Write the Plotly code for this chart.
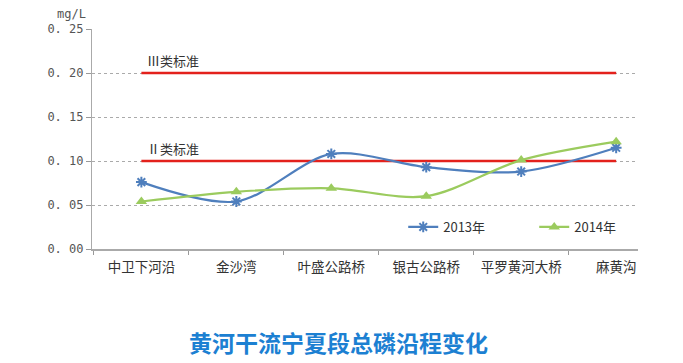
import plotly.graph_objects as go

categories = ["中卫下河沿", "金沙湾", "叶盛公路桥", "银古公路桥", "平罗黄河大桥", "麻黄沟"]
values_2013 = [0.076, 0.054, 0.108, 0.093, 0.088, 0.115]
values_2014 = [0.054, 0.065, 0.069, 0.060, 0.101, 0.122]
standard_names = ["Ⅲ类标准", "Ⅱ类标准"]
standard_values = [0.20, 0.10]
y_ticks = [0.00, 0.05, 0.10, 0.15, 0.20, 0.25]

cjk = "Noto Sans CJK SC"
fig = go.Figure()

for name, val in zip(standard_names, standard_values):
    fig.add_trace(go.Scatter(
        x=[categories[0], categories[-1]], y=[val, val], mode="lines",
        line=dict(color="#e3211c", width=2.5), showlegend=False, hoverinfo="skip"))
    fig.add_annotation(x=categories[0], y=val, text=name, showarrow=False,
                       xanchor="left", yanchor="bottom", xshift=4, yshift=1,
                       font=dict(family=cjk, size=13, color="#333333"))

fig.add_trace(go.Scatter(
    x=categories, y=values_2013, name="2013年", mode="lines+markers",
    line=dict(color="#4f7fbd", width=2.2, shape="spline", smoothing=0.9),
    marker=dict(symbol="asterisk-open", size=9, color="#4f7fbd",
                line=dict(color="#4f7fbd", width=2))))
fig.add_trace(go.Scatter(
    x=categories, y=values_2014, name="2014年", mode="lines+markers",
    line=dict(color="#9bcb5e", width=2.2, shape="spline", smoothing=0.9),
    marker=dict(symbol="triangle-up", size=10, color="#9bcb5e")))

fig.update_layout(
    width=683, height=363,
    margin=dict(l=92, r=45, t=29, b=114, autoexpand=False),
    paper_bgcolor="white", plot_bgcolor="white",
    showlegend=True,
    legend=dict(orientation="h", x=0.57, y=0.1, xanchor="left", yanchor="middle",
                bgcolor="rgba(0,0,0,0)", font=dict(family=cjk, size=13, color="#333333"),
                entrywidth=86, tracegroupgap=0),
    font=dict(family=cjk),
)
fig.update_xaxes(
    type="category", categoryorder="array", categoryarray=categories,
    range=[-0.52, 5.23], tickson="boundaries", tickangle=0, automargin=False,
    ticks="outside", ticklen=4, tickcolor="#999999", ticklabelstandoff=5,
    showline=True, linecolor="#aaaaaa", linewidth=1.5, showgrid=False,
    tickfont=dict(family=cjk, size=13.5, color="#333333"), fixedrange=True)
fig.update_yaxes(
    range=[0, 0.25], tickvals=y_ticks, ticktext=[f"{v:.2f}".replace(".", ". ") for v in y_ticks],
    ticks="outside", ticklen=5, tickcolor="#999999", automargin=False,
    showline=True, linecolor="#aaaaaa", linewidth=1.2,
    showgrid=True, gridcolor="#aaaaaa", griddash="dot", gridwidth=1,
    zeroline=False,
    tickfont=dict(family="DejaVu Sans Mono", size=12, color="#555555"))

fig.add_annotation(xref="paper", yref="paper", x=-0.008, y=1.0, yshift=6,
                   text="mg/L", showarrow=False, xanchor="right", yanchor="bottom",
                   font=dict(family="DejaVu Sans Mono", size=12, color="#555555"))
fig.add_annotation(xref="paper", yref="paper", x=0.452, y=-0.423,
                   text="<b>黄河干流宁夏段总磷沿程变化</b>", showarrow=False,
                   xanchor="center", yanchor="middle",
                   font=dict(family=cjk, size=23, color="#1c80d2"))

fig.write_html("out.html", config={"displayModeBar": False},
               post_script="document.body.style.margin='0';document.body.style.padding='0';")
